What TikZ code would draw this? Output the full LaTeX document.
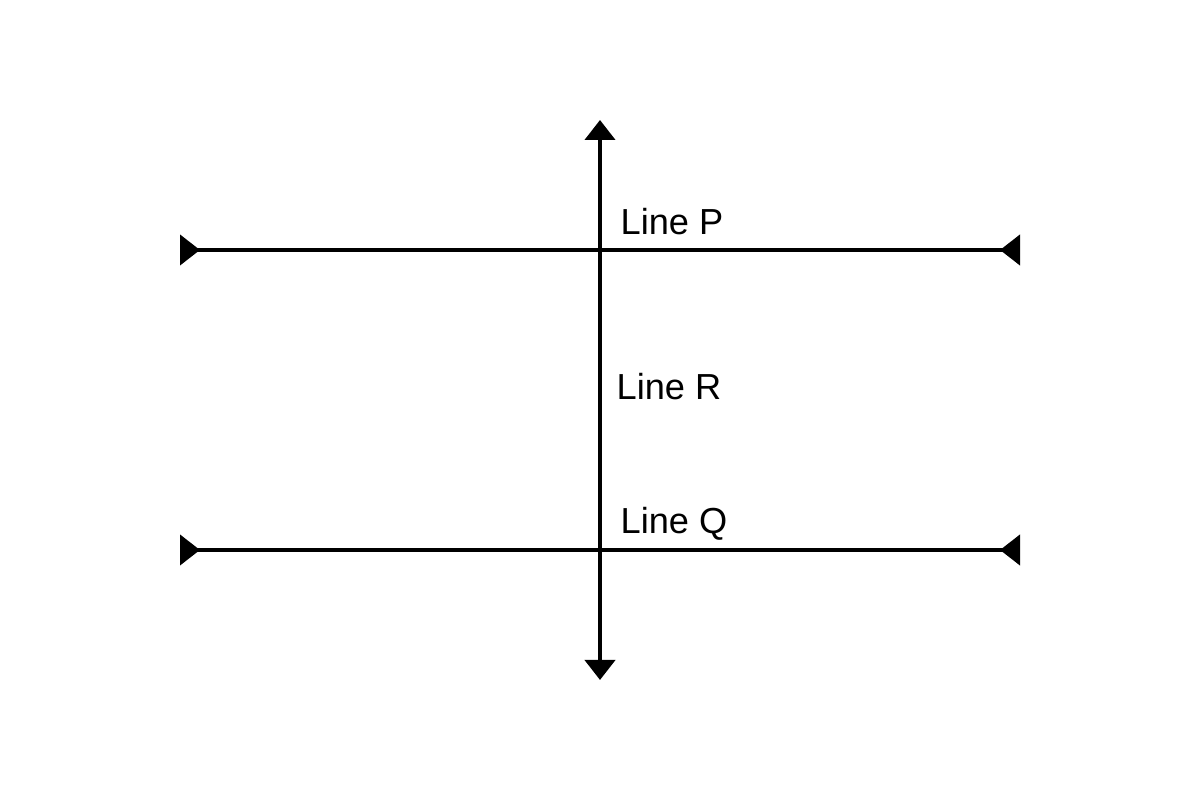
\documentclass[tikz,border=0pt]{standalone}
\usepackage{fontspec}
\setmainfont{Liberation Sans}
\usetikzlibrary{arrows.meta}

\begin{document}
\begin{tikzpicture}[
    line/.style={line width=1.15pt},
    lbl/.style={anchor=base west, inner sep=0pt, font=\fontsize{10.3}{12}\selectfont}
  ]
  \useasboundingbox (0,0) rectangle (12,8);
  % end points
  \coordinate (pl) at (1.8,5.5);
  \coordinate (pr) at (10.2,5.5);
  \coordinate (ql) at (1.8,2.5);
  \coordinate (qr) at (10.2,2.5);
  \coordinate (rt) at (6,6.8);
  \coordinate (rb) at (6,1.2);
  % line R (vertical)
  \draw[line,{Triangle[length=0.2cm,width=0.3cm]}-{Triangle[length=0.2cm,width=0.3cm]}] (rb) -- (rt);
  % lines P and Q (horizontal)
  \draw[line,{Triangle[length=0.2cm,width=0.3cm,reversed]}-{Triangle[length=0.2cm,width=0.3cm,reversed]}] (pl) -- (pr);
  \draw[line,{Triangle[length=0.2cm,width=0.3cm,reversed]}-{Triangle[length=0.2cm,width=0.3cm,reversed]}] (ql) -- (qr);
  % labels
  \node[lbl] (lp) at (6.2,5.65) {Line P};
  \node[lbl] (lr) at (6.16,4.0) {Line R};
  \node[lbl] (lq) at (6.2,2.66) {Line Q};
\end{tikzpicture}
\end{document}
